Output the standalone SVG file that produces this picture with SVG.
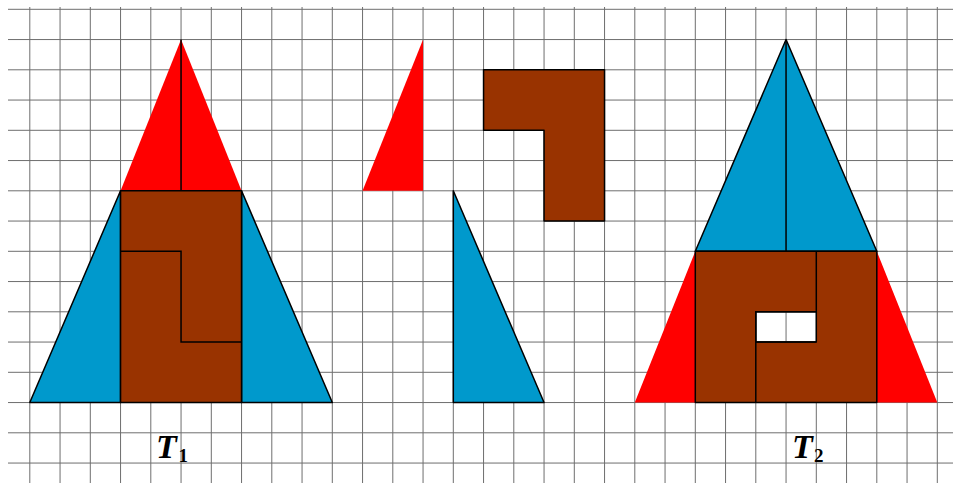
<svg xmlns="http://www.w3.org/2000/svg" width="953" height="483" viewBox="0 0 953 483">
<style>
.grid{stroke:#6e6e6e;stroke-width:1;fill:none}
.red{fill:#ff0000;stroke:none}
.blue{fill:#0099cc;stroke:#000;stroke-width:1.5;stroke-linejoin:round}
.brown{fill:#993300;stroke:#000;stroke-width:1.5;stroke-linejoin:round}
.ln{fill:none;stroke:#000;stroke-width:1.5}
.lbl{font-family:"Liberation Serif","DejaVu Serif",serif;font-weight:bold;fill:#000}
</style>
<rect x="0" y="0" width="953" height="483" fill="#fff"/>
<g id="grid" class="grid">
<path d="M29.8 7V483M60.05 7V483M90.3 7V483M120.55 7V483M150.8 7V483M181.05 7V483M211.3 7V483M241.55 7V483M271.8 7V483M302.05 7V483M332.3 7V483M362.55 7V483M392.8 7V483M423.05 7V483M453.3 7V483M483.55 7V483M513.8 7V483M544.05 7V483M574.3 7V483M604.55 7V483M634.8 7V483M665.05 7V483M695.3 7V483M725.55 7V483M755.8 7V483M786.05 7V483M816.3 7V483M846.55 7V483M876.8 7V483M907.05 7V483M937.3 7V483"/>
<path d="M8 9.3H953M8 39.55H953M8 69.8H953M8 100.05H953M8 130.3H953M8 160.55H953M8 190.8H953M8 221.05H953M8 251.3H953M8 281.55H953M8 311.8H953M8 342.05H953M8 372.3H953M8 402.55H953M8 432.8H953M8 463.05H953"/>
</g>
<g id="T1">
<polygon class="red" points="181.05,39.55 120.55,190.8 241.55,190.8"/>
<polygon class="blue" points="29.8,402.55 120.55,190.8 120.55,402.55"/>
<polygon class="blue" points="241.55,190.8 332.3,402.55 241.55,402.55"/>
<rect class="brown" x="120.55" y="190.8" width="121" height="211.75"/>
<path class="ln" d="M181.05 39.55V190.8M120.55 251.3H181.05V342.05H241.55"/>
</g>
<g id="pieces">
<polygon class="red" points="423.05,39.55 362.55,190.8 423.05,190.8"/>
<polygon class="blue" points="453.3,190.8 544.05,402.55 453.3,402.55"/>
<polygon class="brown" points="483.55,69.8 604.55,69.8 604.55,221.05 544.05,221.05 544.05,130.3 483.55,130.3"/>
</g>
<g id="T2">
<polygon class="red" points="695.3,251.3 634.8,402.55 695.3,402.55"/>
<polygon class="red" points="876.8,251.3 937.3,402.55 876.8,402.55"/>
<polygon class="blue" points="786.05,39.55 695.3,251.3 876.8,251.3"/>
<path class="brown" fill-rule="evenodd" d="M695.3 251.3H876.8V402.55H695.3ZM755.8 311.8H816.3V342.05H755.8Z"/>
<path class="ln" d="M786.05 39.55V251.3M755.8 402.55V311.8H816.3V251.3M755.8 342.05H816.3"/>
</g>
<g id="labels">
<text class="lbl" x="156" y="458" font-size="34" font-style="italic">T</text>
<text class="lbl" x="178.5" y="461.7" font-size="19">1</text>
<text class="lbl" x="792" y="458" font-size="34" font-style="italic">T</text>
<text class="lbl" x="814" y="461.7" font-size="19">2</text>
</g>
</svg>
